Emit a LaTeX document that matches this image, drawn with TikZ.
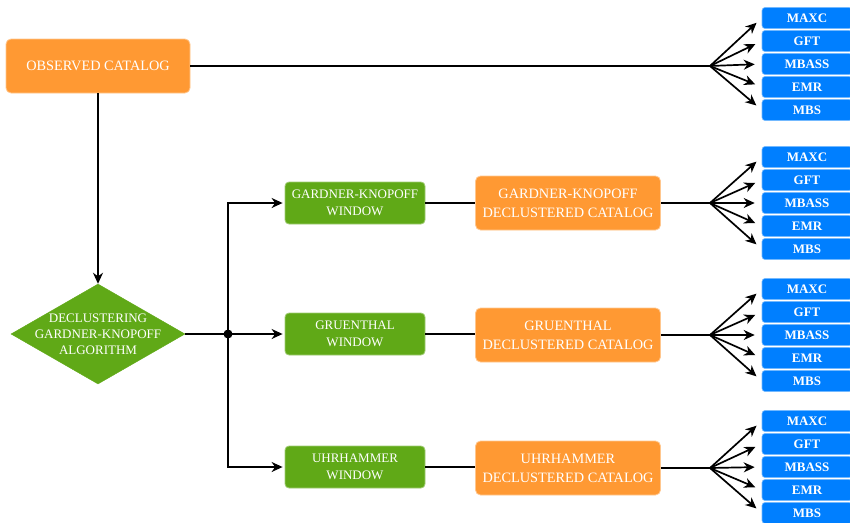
\documentclass[tikz,border=0pt]{standalone}
\usepackage{fontspec}
\setmainfont{Liberation Serif}
\usetikzlibrary{shapes.geometric,arrows.meta}
\definecolor{orangebox}{HTML}{FF9933}
\definecolor{greenbox}{HTML}{60A917}
\definecolor{bluebox}{HTML}{007FFF}
\begin{document}
\begin{tikzpicture}[x=1pt,y=-1pt,
  orangenode/.style={rectangle,rounded corners=5pt,fill=orangebox,draw=orangebox!55!white,line width=0.8pt,text=white,align=center,font=\fontsize{14.3}{19}\selectfont,inner sep=0pt},
  greennode/.style={rectangle,rounded corners=4pt,fill=greenbox,draw=greenbox!60!white,line width=0.8pt,text=white,align=center,font=\fontsize{13}{17}\selectfont,inner sep=0pt,minimum width=140pt,minimum height=42pt},
  bluenode/.style={rectangle,rounded corners=3pt,fill=bluebox,draw=bluebox!55!white,line width=0.6pt,text=white,align=center,font=\bfseries\fontsize{13}{15}\selectfont,inner sep=0pt,minimum width=90pt,minimum height=21pt},
  conn/.style={line width=1.7pt,black},
  arr/.style={conn,-{Stealth[length=11pt,width=10pt,inset=3.5pt]}},
]
\useasboundingbox (0,0) rectangle (850,522);

% top orange node
\node[orangenode,minimum width=184pt,minimum height=54pt] (obs) at (98,66) {OBSERVED CATALOG};

% diamond
\node[diamond,fill=greenbox,draw=greenbox,inner sep=0pt,minimum width=174pt,minimum height=100pt] (dia) at (98,334) {};
\node[text=white,align=center,font=\fontsize{13}{16}\selectfont] (diatext) at (98,334) {DECLUSTERING\\GARDNER-KNOPOFF\\ALGORITHM};

% junction
\coordinate (j) at (228,334);

% green windows
\node[greennode] (gkw) at (355,203) {GARDNER-KNOPOFF\\WINDOW};
\node[greennode] (grw) at (355,334) {GRUENTHAL\\WINDOW};
\node[greennode] (uhw) at (355,467) {UHRHAMMER\\WINDOW};

% orange declustered catalogs
\node[orangenode,minimum width=185pt,minimum height=54pt] (gkc) at (568,203) {GARDNER-KNOPOFF\\DECLUSTERED CATALOG};
\node[orangenode,minimum width=185pt,minimum height=54pt] (grc) at (568,335) {GRUENTHAL\\DECLUSTERED CATALOG};
\node[orangenode,minimum width=185pt,minimum height=54pt] (uhc) at (568,468) {UHRHAMMER\\DECLUSTERED CATALOG};

% fan points
\coordinate (f0) at (710,66);
\coordinate (f1) at (710,203);
\coordinate (f2) at (710,335);
\coordinate (f3) at (710,468);

% blue boxes and fan arrows
\foreach \g/\c in {0/64,1/203,2/335,3/467}{
  \foreach \i/\t in {0/MAXC,1/GFT,2/MBASS,3/EMR,4/MBS}{
    \node[bluenode] (b\g\i) at (807,{\c-46+23*\i}) {\t};
    \draw[arr,shorten >=7pt] (f\g) -- (b\g\i.west);
  }
}

% connectors
\draw[conn] (obs.east) -- (f0);
\draw[arr] (obs.south) -- (dia.north);
\draw[conn] (dia.east) -- (j);
\draw[arr,shorten >=2pt] (j) |- (gkw.west);
\draw[arr,shorten >=2pt] (j) -- (grw.west);
\draw[arr,shorten >=2pt] (j) |- (uhw.west);
\fill (j) circle (4.5pt);
\draw[conn] (gkw.east) -- (gkc.west);
\draw[conn] (grw.east) -- (grw.east -| gkc.west);
\draw[conn] (uhw.east) -- (uhw.east -| uhc.west);
\draw[conn] (gkc.east) -- (f1);
\draw[conn] (grc.east) -- (f2);
\draw[conn] (uhc.east) -- (f3);
\end{tikzpicture}
\end{document}
